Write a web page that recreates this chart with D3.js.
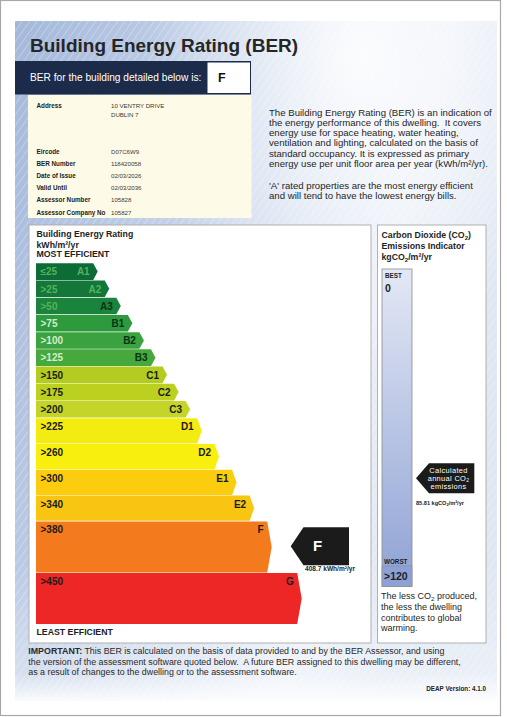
<!DOCTYPE html>
<html><head><meta charset="utf-8">
<script src="https://cdn.jsdelivr.net/npm/d3@7"></script>
<style>
html,body{margin:0;padding:0;background:#fff;}
svg{display:block;font-family:"Liberation Sans",Arial,Helvetica,sans-serif;}
text{white-space:pre;}
</style></head><body>
<svg id="c" width="507" height="717"></svg>
<script>
// ---------------- DATA ----------------
const bandLabels = ["A1","A2","A3","B1","B2","B3","C1","C2","C3","D1","D2","E1","E2","F","G"];
const bandThresholds = ["≤25",">25",">50",">75",">100",">125",">150",">175",">200",">225",">260",">300",">340",">380",">450"];
const bandLower = [0,25,50,75,100,125,150,175,200,225,260,300,340,380,450];
const berValue = 408.7;
const co2Value = 85.81;
const co2Domain = [0,120];
const co2TickLabels = ["0", ">120"];
const addressLabels = ["Address","","Eircode","BER Number","Date of Issue","Valid Until","Assessor Number","Assessor Company No"];
const addressValues = ["10 VENTRY DRIVE","DUBLIN 7","D07C6W9","118420058","02/03/2026","02/03/2036","105828","105827"];
const introLines = ["The Building Energy Rating (BER) is an indication of",
  "the energy performance of this dwelling.  It covers",
  "energy use for space heating, water heating,",
  "ventilation and lighting, calculated on the basis of",
  "standard occupancy. It is expressed as primary",
  "energy use per unit floor area per year (kWh/m²/yr)."];
const introLines2 = ["'A' rated properties are the most energy efficient",
  "and will tend to have the lowest energy bills."];
const importantLines = ["This BER is calculated on the basis of data provided to and by the BER Assessor, and using",
  "the version of the assessment software quoted below.  A future BER assigned to this dwelling may be different,",
  "as a result of changes to the dwelling or to the assessment software."];
const deapVersion = "4.1.0";

// ---------------- STYLE ----------------
const palette = ["#0d6b37","#13773a","#1b843c","#2c9a3d","#3aa23e","#47a83e","#b4cc1f","#bcd020","#c4d527","#f4ec10","#f8ef0e","#fbcd0e","#f8c513","#f47b1d","#ec2726"];
const leftLabelColor = i => i < 3 ? "#55b25a" : (i < 6 ? "#d4eecb" : "#1b1b1b");
const rightLabelColor = i => i < 2 ? "#55b25a" : (i < 6 ? "#0b3216" : "#1b1b1b");

const svg = d3.select("#c");
const defs = svg.append("defs");

function fit(sel, target){
  const w = sel.node().getComputedTextLength();
  const fs = parseFloat(sel.attr("font-size"));
  const nf = fs * target / w;
  sel.attr("font-size", nf);
  return nf;
}

// ---------------- BACKGROUND ----------------
svg.append("rect").attr("x",0.5).attr("y",0.5).attr("width",500).attr("height",715)
  .attr("fill","#fff").attr("stroke","#a8a8a8").attr("stroke-width",1.2);

const bg = defs.append("linearGradient").attr("id","bg").attr("x1","0").attr("y1","0").attr("x2","1").attr("y2","0.35");
bg.append("stop").attr("offset","0").attr("stop-color","#a4b8da");
bg.append("stop").attr("offset","0.45").attr("stop-color","#c9d6eb");
bg.append("stop").attr("offset","0.8").attr("stop-color","#e9eef7");
bg.append("stop").attr("offset","1").attr("stop-color","#dfe7f3");
const glow = defs.append("radialGradient").attr("id","glow").attr("cx","0.72").attr("cy","0.05").attr("r","0.45");
glow.append("stop").attr("offset","0").attr("stop-color","#fff").attr("stop-opacity",0.9);
glow.append("stop").attr("offset","1").attr("stop-color","#fff").attr("stop-opacity",0);
const pat = defs.append("pattern").attr("id","tex").attr("width",6).attr("height",6)
  .attr("patternUnits","userSpaceOnUse").attr("patternTransform","rotate(35)");
pat.append("line").attr("x1",0).attr("y1",0).attr("x2",0).attr("y2",6).attr("stroke","#ffffff").attr("stroke-width",1.2).attr("stroke-opacity",0.45);
const fade = defs.append("linearGradient").attr("id","fade").attr("x1",0).attr("y1",0).attr("x2",0).attr("y2",1);
fade.append("stop").attr("offset","0").attr("stop-color","#fff").attr("stop-opacity",0);
fade.append("stop").attr("offset","0.8").attr("stop-color","#fff").attr("stop-opacity",0.35);
fade.append("stop").attr("offset","1").attr("stop-color","#fff").attr("stop-opacity",0.9);

svg.append("rect").attr("x",15).attr("y",21).attr("width",482).attr("height",680).attr("fill","url(#bg)");
svg.append("rect").attr("x",15).attr("y",21).attr("width",482).attr("height",680).attr("fill","url(#tex)");
svg.append("rect").attr("x",15).attr("y",21).attr("width",482).attr("height",680).attr("fill","url(#glow)");
svg.append("rect").attr("x",15).attr("y",560).attr("width",482).attr("height",141).attr("fill","url(#fade)");

// ---------------- HEADER ----------------
svg.append("text").attr("x",30).attr("y",52).attr("font-size",19).attr("font-weight","bold")
  .attr("fill","#262626").text("Building Energy Rating (BER)");
svg.append("rect").attr("x",15).attr("y",61).attr("width",236).attr("height",33.5).attr("fill","#1d2b4a");
svg.append("rect").attr("x",207.5).attr("y",62.5).attr("width",42.5).attr("height",30.5).attr("fill","#fff");
const berTxt = svg.append("text").attr("x",30).attr("y",81).attr("font-size",9.5).attr("fill","#fff")
  .text("BER for the building detailed below is:");
fit(berTxt, 171.5);
const ratingIdx = d3.bisectLeft(bandLower, berValue) - 1;
svg.append("text").attr("x",218).attr("y",82).attr("font-size",12.5).attr("font-weight","bold")
  .attr("fill","#111").text(bandLabels[ratingIdx]);

// address box
svg.append("rect").attr("x",28).attr("y",95).attr("width",223.5).attr("height",123).attr("fill","#fdfbe7");
const rowY = i => i < 2 ? 108 + i*9 : 154 + (i-2)*12.1;
addressLabels.forEach((l,i)=>{
  svg.append("text").attr("x",36.5).attr("y",rowY(i)).attr("font-size",6.3).attr("font-weight","bold").attr("fill","#222").text(l);
  svg.append("text").attr("x",111).attr("y",rowY(i)).attr("font-size",6.1).attr("fill","#3a3a3a").text(addressValues[i]);
});

// intro paragraph
const introG = svg.append("g").attr("fill","#262626");
const l0 = introG.append("text").attr("x",269).attr("y",115.5).attr("font-size",9.3).text(introLines[0]);
const fsIntro = fit(l0, 223);
introLines.slice(1).forEach((t,i)=> introG.append("text").attr("x",269).attr("y",115.5+(i+1)*10.25).attr("font-size",fsIntro).text(t));
introLines2.forEach((t,i)=> introG.append("text").attr("x",269).attr("y",188.5+i*10.6).attr("font-size",fsIntro).text(t));

// ---------------- ENERGY PANEL ----------------
svg.append("rect").attr("x",29).attr("y",225).attr("width",342).attr("height",418)
  .attr("fill","#fff").attr("stroke","#a9a9a9").attr("stroke-width",0.9);
const titleG = svg.append("g").attr("font-weight","bold").attr("fill","#1e1e1e").attr("font-size",8.75);
titleG.append("text").attr("x",36.5).attr("y",236.5).text("Building Energy Rating");
titleG.append("text").attr("x",36.5).attr("y",247.8).text("kWh/m²/yr");
titleG.append("text").attr("x",36.5).attr("y",257.4).text("MOST EFFICIENT");
titleG.append("text").attr("x",36.5).attr("y",634.5).text("LEAST EFFICIENT");

const yBand = d3.scaleLinear().domain([0,9,13,15]).range([263.3,418.2,521.4,624.6]);
const xTip = d3.scaleLinear().domain([0,9,10,13,14]).range([97.7,201.7,219,271.7,301.7]);
const x0 = 36;
const colour = d3.scaleOrdinal().domain(bandLabels).range(palette);

const bands = svg.append("g").selectAll("g").data(bandLabels).join("g");
bands.append("path")
  .attr("d",(d,i)=>{
    const y0 = yBand(i), y1 = yBand(i+1) - 0.6, t = xTip(i), p = 4.5;
    return `M${x0},${y0}H${t-p}L${t},${(y0+y1)/2}L${t-p},${y1}H${x0}Z`;
  })
  .attr("fill",d=>colour(d));
bands.append("text").attr("x",40.5).attr("y",(d,i)=>yBand(i)+12)
  .attr("font-size",10).attr("font-weight","bold").attr("fill",(d,i)=>leftLabelColor(i))
  .text((d,i)=>bandThresholds[i]);
bands.append("text").attr("x",(d,i)=>xTip(i)-8).attr("y",(d,i)=>yBand(i)+12)
  .attr("text-anchor","end").attr("font-size",10).attr("font-weight","bold").attr("fill",(d,i)=>rightLabelColor(i))
  .text(d=>d);

// rating arrow
{
  const yc = (yBand(ratingIdx)+yBand(ratingIdx+1))/2 - 1;
  const tip = 290.7, body = 303.5, right = 349, h = 19;
  svg.append("path").attr("d",`M${tip},${yc}L${body},${yc-h}H${right}V${yc+h}H${body}Z`).attr("fill","#1b1b1b");
  svg.append("text").attr("x",317.7).attr("y",yc+4.5).attr("text-anchor","middle").attr("font-size",15)
    .attr("font-weight","bold").attr("fill","#fff").text(bandLabels[ratingIdx]);
  const vt = svg.append("text").attr("x",305).attr("y",yc+h+5.3).attr("font-size",5.6).attr("font-weight","bold")
    .attr("fill","#222").text(`${berValue} kWh/m²/yr`);
  fit(vt, 50);
}

// ---------------- CO2 PANEL ----------------
svg.append("rect").attr("x",377.5).attr("y",225).attr("width",108.5).attr("height",418)
  .attr("fill","#fff").attr("stroke","#a9a9a9").attr("stroke-width",0.9);
const co2T = svg.append("g").attr("font-weight","bold").attr("fill","#1e1e1e").attr("font-size",8.75);
{
  const t1 = co2T.append("text").attr("x",381.5).attr("y",238);
  t1.append("tspan").text("Carbon Dioxide (CO");
  t1.append("tspan").attr("font-size",6).attr("dy",2).text("2");
  t1.append("tspan").attr("dy",-2).text(")");
  co2T.append("text").attr("x",381.5).attr("y",248.8).text("Emissions Indicator");
  const t3 = co2T.append("text").attr("x",381.5).attr("y",259.5);
  t3.append("tspan").text("kgCO");
  t3.append("tspan").attr("font-size",6).attr("dy",2).text("2");
  t3.append("tspan").attr("dy",-2).text("/m²/yr");
}
const cg = defs.append("linearGradient").attr("id","co2g").attr("x1",0).attr("y1",0).attr("x2",0).attr("y2",1);
cg.append("stop").attr("offset","0").attr("stop-color","#e3e8f4");
cg.append("stop").attr("offset","1").attr("stop-color","#8fa2d5");
const barTop = 269, barBot = 586.5, barX = 382, barW = 30;
svg.append("rect").attr("x",barX).attr("y",barTop).attr("width",barW).attr("height",barBot-barTop)
  .attr("fill","url(#co2g)").attr("stroke","#8c8c8c").attr("stroke-width",0.8);
svg.append("rect").attr("x",barX).attr("y",566).attr("width",barW).attr("height",barBot-566)
  .attr("fill","#8da1d6").attr("stroke","#8c8c8c").attr("stroke-width",0.6);
const co2Bar = svg.append("g").attr("font-weight","bold").attr("fill","#1e1e1e");
co2Bar.append("text").attr("x",385).attr("y",278.2).attr("font-size",6.3).text("BEST");
co2Bar.append("text").attr("x",385).attr("y",291.5).attr("font-size",10.5).text(co2TickLabels[0]);
co2Bar.append("text").attr("x",384).attr("y",564).attr("font-size",6.3).text("WORST");
co2Bar.append("text").attr("x",384).attr("y",580).attr("font-size",10.5).text(co2TickLabels[1]);

const yCo2 = d3.scaleLinear().domain(co2Domain).range([268, 562]);
{
  const yc = yCo2(co2Value), tip = 416, body = 429, right = 474.3, h = 15;
  svg.append("path").attr("d",`M${tip},${yc}L${body},${yc-h}H${right}V${yc+h}H${body}Z`).attr("fill","#1b1b1b");
  const ag = svg.append("g").attr("fill","#fff").attr("font-size",7.4).attr("text-anchor","middle").attr("letter-spacing",0.35);
  ag.append("text").attr("x",448.5).attr("y",yc-5.5).text("Calculated");
  const a2 = ag.append("text").attr("x",448.5).attr("y",yc+2.5);
  a2.append("tspan").text("annual CO");
  a2.append("tspan").attr("font-size",5).attr("dy",1.5).text("2");
  ag.append("text").attr("x",448.5).attr("y",yc+10.5).text("emissions");
  const vt = svg.append("text").attr("x",416).attr("y",yc+26.5).attr("font-size",5.6).attr("font-weight","bold").attr("fill","#222");
  vt.append("tspan").text(`${co2Value} kgCO`);
  vt.append("tspan").attr("font-size",4).attr("dy",1).text("2");
  vt.append("tspan").attr("dy",-1).text("/m²/yr");
}
{
  const g = svg.append("g").attr("fill","#1e1e1e").attr("font-size",9);
  const t1 = g.append("text").attr("x",381).attr("y",599);
  t1.append("tspan").text("The less CO");
  t1.append("tspan").attr("font-size",6.2).attr("dy",2).text("2");
  t1.append("tspan").attr("dy",-2).text(" produced,");
  g.append("text").attr("x",381).attr("y",610).text("the less the dwelling");
  g.append("text").attr("x",381).attr("y",620.6).text("contributes to global");
  g.append("text").attr("x",381).attr("y",631).text("warming.");
}

// ---------------- FOOTER ----------------
{
  const g = svg.append("g").attr("fill","#2a2a2a");
  const f1 = g.append("text").attr("x",28.3).attr("y",654).attr("font-size",9);
  f1.append("tspan").attr("font-weight","bold").text("IMPORTANT:");
  f1.append("tspan").text(" " + importantLines[0]);
  const fs = fit(f1, 416.7);
  g.append("text").attr("x",28.3).attr("y",664.6).attr("font-size",fs).text(importantLines[1]);
  g.append("text").attr("x",28.3).attr("y",675).attr("font-size",fs).text(importantLines[2]);
  svg.append("text").attr("x",486).attr("y",690.5).attr("text-anchor","end").attr("font-size",6.3)
    .attr("font-weight","bold").attr("fill","#222").text("DEAP Version: " + deapVersion);
}
</script>
</body></html>
